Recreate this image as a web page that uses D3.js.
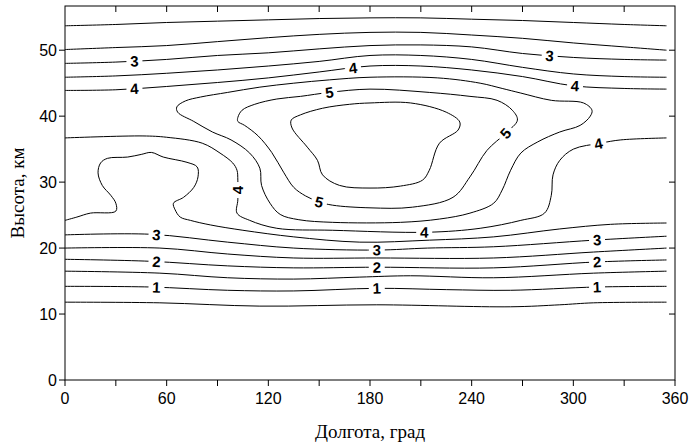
<!DOCTYPE html>
<html>
<head>
<meta charset="utf-8">
<script src="https://cdn.jsdelivr.net/npm/d3@7/dist/d3.min.js"></script>
<style>
  body { margin: 0; background: #fff; }
  svg { display: block; }
</style>
</head>
<body>
<div id="chart"></div>
<script>
// Axis ticks
const xTicks = [0, 30, 60, 90, 120, 150, 180, 210, 240, 270, 300, 330, 360];
const xTickLabels = [0, 60, 120, 180, 240, 300, 360];
const yTicks = [0, 10, 20, 30, 40, 50];

// Contour lines, [longitude, altitude km]
const line05 = [[0, 11.8], [56, 11.7], [115, 11.2], [184, 11.4], [263, 11.1], [292, 11.4], [312, 11.7], [355, 11.8]];
const line10 = [[0, 14.2], [50, 14.1], [96, 13.6], [135, 13.5], [184, 13.9], [225, 13.7], [263, 13.6], [314, 14.1], [355, 14.2]];
const line15 = [[0, 16.5], [56, 16.2], [96, 15.5], [135, 15.3], [174, 15.6], [204, 15.8], [253, 15.5], [312, 16.2], [355, 16.5]];
const line20 = [[0, 18.3], [50, 18.0], [96, 17.3], [135, 17.0], [184, 17.1], [253, 17.0], [314, 17.9], [355, 18.2]];
const line25 = [[0, 20.0], [56, 20.0], [96, 19.1], [135, 18.5], [184, 18.5], [253, 18.5], [312, 19.4], [355, 20.0]];
const line30 = [[0, 22.0], [50, 22.1], [96, 20.9], [135, 20.0], [184, 19.7], [214, 20.0], [253, 20.2], [312, 21.2], [355, 21.8]];
const line35 = [[0, 24.2], [7, 24.7], [15, 25.3], [30, 25.6], [30, 26.8], [27, 28.0], [22, 29.5], [19.5, 31.4], [21, 32.9],
  [25, 33.6], [37, 33.8], [45, 34.2], [51, 34.5], [58, 33.8], [72, 33.0], [78, 32.3], [78.5, 30.8], [76, 29.2], [70, 27.7],
  [64, 26.8], [65, 25.8], [68, 24.7], [74, 24.2], [86, 23.5], [105, 22.7], [135, 21.7], [174, 20.9], [215, 21.2],
  [253, 21.7], [292, 22.9], [322, 23.6], [355, 23.8]];
const line40 = [[0, 36.7], [46, 37.0], [60, 36.8], [81, 35.9], [91.5, 34.4], [99, 32.9], [101.5, 31.8], [102, 30.3],
  [102, 27.3], [101.5, 25.3], [109, 24.2], [125, 23.0], [158, 22.7], [214, 22.4], [245, 23.0], [269, 24.2], [283, 25.3],
  [287, 28.0], [288, 31.1], [292, 33.3], [300, 35.0], [316, 35.9], [328, 36.4], [355, 36.7]];
const line45 = [[66, 41.4], [71, 42.3], [80, 42.9], [96, 43.6], [115, 44.4], [135, 45.0], [156, 45.5], [180, 45.9],
  [220, 45.8], [245, 45.0], [258, 44.2], [269, 43.5], [287, 42.4], [306, 42.0], [311, 40.9], [310, 40.0], [304, 38.6],
  [292, 37.6], [279, 36.1], [269, 34.4], [263, 31.8], [258, 28.8], [253, 26.8], [239, 25.3], [221, 24.4], [198, 23.9],
  [158, 23.9], [138, 24.3], [127, 25.1], [121, 26.8], [116, 29.5], [115, 32.1], [109, 34.4], [98, 36.4], [87, 37.6],
  [76, 39.2], [66.5, 40.6]];
const line50 = [[102, 39.8], [104.5, 40.9], [112, 41.8], [125, 42.6], [139, 43.0], [156, 43.6], [180, 44.1], [215, 43.6],
  [239, 43.0], [255, 42.4], [264, 40.9], [267, 39.4], [260, 37.4], [249, 34.8], [239, 30.8], [229, 27.7], [205, 26.2],
  [180, 26.1], [158, 26.5], [150, 27.0], [142, 27.9], [135, 29.2], [129, 31.5], [122, 34.5], [114, 37.0], [106, 38.6],
  [102, 39.2]];
const line55 = [[133.5, 39.4], [139, 40.2], [152, 41.2], [168, 41.8], [180, 42.0], [204, 42.0], [225, 40.6], [233, 39.1],
  [232, 37.9], [221, 35.9], [215, 31.8], [211, 30.3], [198, 29.4], [180, 29.1], [162, 29.5], [152, 31.1], [149, 33.3],
  [143, 35.3], [134, 38.2]];
const line35top = [[0, 45.9], [30, 46.1], [60, 46.5], [90, 47.0], [120, 47.6], [150, 48.3], [180, 49.2], [210, 49.2],
  [240, 48.6], [270, 47.4], [300, 46.4], [330, 46.0], [355, 45.9]];
const line40top = [[0, 43.9], [30, 44.0], [60, 44.5], [90, 45.1], [120, 45.8], [150, 46.7], [180, 47.6], [210, 47.6],
  [240, 47.0], [270, 46.0], [300, 44.6], [330, 44.2], [355, 44.1]];
const line30top = [[0, 48.0], [30, 48.2], [60, 48.6], [90, 49.2], [120, 49.6], [150, 50.2], [180, 50.7], [210, 50.8],
  [240, 50.5], [270, 49.5], [300, 48.9], [330, 48.6], [355, 48.5]];
const line25top = [[0, 50.1], [30, 50.4], [60, 50.7], [90, 51.3], [120, 51.9], [150, 52.4], [180, 52.7], [210, 52.7],
  [240, 52.3], [270, 51.8], [300, 51.1], [330, 50.5], [355, 50.0]];
const line20top = [[0, 53.7], [30, 53.9], [60, 54.2], [90, 54.4], [120, 54.6], [150, 54.8], [180, 54.9], [210, 54.9],
  [240, 54.7], [270, 54.5], [300, 54.2], [330, 53.9], [355, 53.7]];

// [level, points, closed]
const contourLines = [
  [0.5, line05, false], [1, line10, false], [1.5, line15, false], [2, line20, false], [2.5, line25, false],
  [3, line30, false], [3.5, line35, false], [4, line40, false], [4.5, line45, true], [5, line50, true],
  [5.5, line55, true], [3.5, line35top, false], [4, line40top, false], [3, line30top, false],
  [2.5, line25top, false], [2, line20top, false]
];

// Contour labels: [level, longitude, altitude]
const contourLabels = [
  [3, 41, 48.2], [4, 41, 44.1], [4, 170, 47.3], [5, 156, 43.6], [3, 286, 49.0], [4, 301, 44.5],
  [4, 102, 28.8], [5, 150, 27.0], [5, 260, 37.4], [4, 315, 35.6], [4, 212, 22.4],
  [3, 54, 22.0], [2, 54, 18.0], [1, 54, 14.1],
  [3, 184, 19.7], [2, 184, 17.1], [1, 184, 13.9],
  [3, 314, 21.2], [2, 314, 17.9], [1, 314, 14.1]
];

const width = 689;
const height = 448;
const margin = {top: 6, right: 14, bottom: 68, left: 65};

const svg = d3.select('#chart')
  .append('svg')
  .attr('width', width)
  .attr('height', height);

const x = d3.scaleLinear().domain([0, 360]).range([margin.left, width - margin.right]);
const y = d3.scaleLinear().domain([0, 56.7]).range([height - margin.bottom, margin.top]);

const openLine = d3.line().x(d => x(d[0])).y(d => y(d[1])).curve(d3.curveCatmullRom.alpha(0.5));
const closedLine = d3.line().x(d => x(d[0])).y(d => y(d[1])).curve(d3.curveCatmullRomClosed.alpha(0.5));

// contour lines
svg.append('g')
  .selectAll('path')
  .data(contourLines)
  .join('path')
  .attr('d', d => d[2] ? closedLine(d[1]) : openLine(d[1]))
  .attr('fill', 'none')
  .attr('stroke', '#000')
  .attr('stroke-width', 1);

// put each label on the nearest segment of a line with the same level
function placeLabel(lab) {
  const px = x(lab[1]), py = y(lab[2]);
  let best = null;
  contourLines.filter(c => c[0] === lab[0]).forEach(c => {
    const pts = c[1].map(p => [x(p[0]), y(p[1])]);
    const n = c[2] ? pts.length : pts.length - 1;
    for (let i = 0; i < n; i++) {
      const a = pts[i], b = pts[(i + 1) % pts.length];
      const dx = b[0] - a[0], dy = b[1] - a[1];
      const len2 = dx * dx + dy * dy || 1;
      let t = ((px - a[0]) * dx + (py - a[1]) * dy) / len2;
      t = Math.max(0, Math.min(1, t));
      const qx = a[0] + t * dx, qy = a[1] + t * dy;
      const dist = Math.hypot(px - qx, py - qy);
      if (!best || dist < best.dist) {
        let ang = Math.atan2(dy, dx) * 180 / Math.PI;
        if (ang >= 90) ang -= 180;
        if (ang < -90) ang += 180;
        best = {dist, qx, qy, ang};
      }
    }
  });
  return best;
}

const labels = svg.append('g')
  .selectAll('g')
  .data(contourLabels)
  .join('g')
  .attr('transform', d => {
    const p = placeLabel(d);
    return `translate(${p.qx},${p.qy}) rotate(${p.ang})`;
  });

labels.append('rect')
  .attr('x', -8).attr('y', -5)
  .attr('width', 16).attr('height', 10)
  .attr('fill', '#fff');

labels.append('text')
  .attr('text-anchor', 'middle')
  .attr('dy', '0.36em')
  .attr('font-family', 'Liberation Sans, Arial, sans-serif')
  .attr('font-weight', 'bold')
  .attr('font-size', 15)
  .text(d => d[0]);

// frame
const x0 = x(0), x1 = x(360), y0 = y(0), y1 = y(56.7);
svg.append('rect')
  .attr('x', x0).attr('y', y1)
  .attr('width', x1 - x0).attr('height', y0 - y1)
  .attr('fill', 'none')
  .attr('stroke', '#000')
  .attr('stroke-width', 1);

const tickLen = 6;
const ticks = svg.append('g').attr('stroke', '#000').attr('stroke-width', 1);

// bottom ticks outward, top ticks inward
ticks.selectAll('.xb').data(xTicks).join('line')
  .attr('x1', d => x(d)).attr('x2', d => x(d))
  .attr('y1', y0).attr('y2', y0 + tickLen);
ticks.selectAll('.xt').data(xTicks.slice(1, -1)).join('line')
  .attr('x1', d => x(d)).attr('x2', d => x(d))
  .attr('y1', y1).attr('y2', y1 + tickLen);

// left ticks outward, right ticks inward
ticks.selectAll('.yl').data(yTicks).join('line')
  .attr('x1', x0 - tickLen).attr('x2', x0)
  .attr('y1', d => y(d)).attr('y2', d => y(d));
ticks.selectAll('.yr').data(yTicks.slice(1)).join('line')
  .attr('x1', x1 - tickLen).attr('x2', x1)
  .attr('y1', d => y(d)).attr('y2', d => y(d));

svg.append('g')
  .selectAll('text')
  .data(xTickLabels)
  .join('text')
  .attr('x', d => x(d))
  .attr('y', y0 + 24)
  .attr('text-anchor', 'middle')
  .attr('font-family', 'Liberation Sans, Arial, sans-serif')
  .attr('font-size', 16)
  .text(d => d);

svg.append('g')
  .selectAll('text')
  .data(yTicks)
  .join('text')
  .attr('x', x0 - 8)
  .attr('y', d => y(d))
  .attr('dy', '0.36em')
  .attr('text-anchor', 'end')
  .attr('font-family', 'Liberation Sans, Arial, sans-serif')
  .attr('font-size', 16)
  .text(d => d);

// axis titles
svg.append('text')
  .attr('x', (x0 + x1) / 2)
  .attr('y', 438)
  .attr('text-anchor', 'middle')
  .attr('font-family', 'Liberation Serif, Times New Roman, serif')
  .attr('font-size', 19)
  .text('Долгота, град');

svg.append('text')
  .attr('transform', `translate(24,${(y0 + y1) / 2}) rotate(-90)`)
  .attr('text-anchor', 'middle')
  .attr('font-family', 'Liberation Serif, Times New Roman, serif')
  .attr('font-size', 19)
  .text('Высота, км');
</script>
</body>
</html>
